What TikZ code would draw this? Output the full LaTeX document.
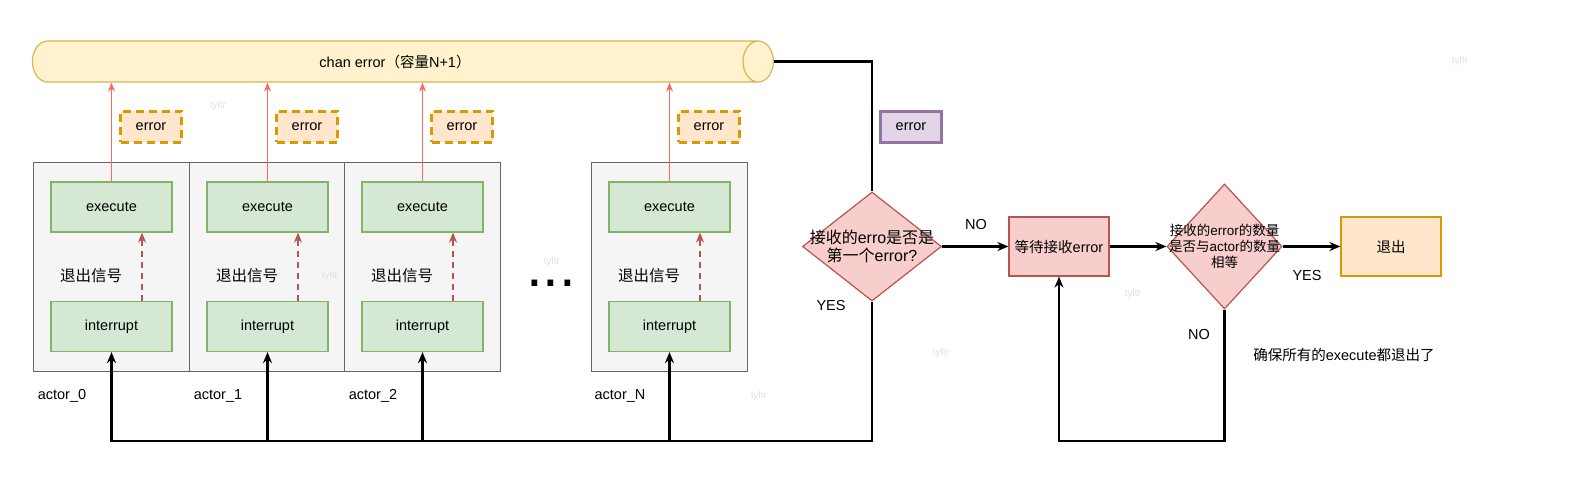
\documentclass[tikz,border=0pt]{standalone}
\usepackage{fontspec}
\setmainfont{Liberation Sans}
\newfontfamily\cjk{Noto Sans CJK SC}
\newcommand{\zh}[1]{{\cjk #1}}
\usepackage{tikz}
\usetikzlibrary{arrows.meta, shapes.geometric}

\definecolor{chanfill}{HTML}{FFF2CC}
\definecolor{chanline}{HTML}{D6B656}
\definecolor{greenfill}{HTML}{D5E8D4}
\definecolor{greenline}{HTML}{82B366}
\definecolor{orangefill}{HTML}{FFE6CC}
\definecolor{orangeline}{HTML}{D79B00}
\definecolor{redfill}{HTML}{F8CECC}
\definecolor{redline}{HTML}{B85450}
\definecolor{purplefill}{HTML}{E1D5E7}
\definecolor{purpleline}{HTML}{9673A6}
\definecolor{lightred}{HTML}{FF6666}

\begin{document}
\begin{tikzpicture}[
    x=1pt, y=-1pt,
    font=\fontsize{14.5}{17}\selectfont,
    actorbox/.style={
        rectangle,
        draw=black!60,
        fill=black!4,
        line width=1.2pt,
        minimum width=155.5pt,
        minimum height=209pt,
        inner sep=0pt
    },
    greenbox/.style={
        rectangle,
        draw=greenline,
        fill=greenfill,
        line width=1.2pt,
        minimum width=121pt,
        minimum height=50pt
    },
    errbox/.style={
        rectangle,
        draw=orangeline,
        fill=orangefill,
        line width=3pt,
        dash pattern=on 8pt off 5pt,
        minimum width=61pt,
        minimum height=31pt
    },
    stepbox/.style={
        rectangle,
        line width=1.2pt,
        minimum width=100pt,
        minimum height=59pt
    },
    decision/.style={
        diamond,
        draw=redline,
        fill=redfill,
        line width=1.2pt,
        inner sep=0pt
    },
    wm/.style={text=black!12, font=\fontsize{10}{12}\selectfont},
    redarrow/.style={-{Stealth[length=9pt, width=7pt]}, lightred, line width=1.2pt},
    sigarrow/.style={-{Stealth[length=10pt, width=8pt]}, redline, line width=2.2pt, dash pattern=on 6pt off 5pt},
    flow/.style={-{Stealth[length=11pt, width=9pt]}, line width=2.4pt},
    line/.style={line width=2.4pt}
]
\useasboundingbox (0,0) rectangle (1583,483);

% --- channel ---
\node[cylinder, shape border rotate=0, aspect=2.2, draw=chanline, fill=chanfill,
      line width=1.2pt, minimum height=741pt, minimum width=41pt, inner sep=0pt]
    (chan) at (395,61.5) {chan error\zh{（容量}N+1\zh{）}};

% --- actors ---
\foreach \x/\i in {33/0, 189/1, 344/2, 591/N} {
    \node[actorbox, anchor=north west] (actor\i) at (\x,162) {};
    \node[greenbox] (exec\i) at (\x+78.5,207) {execute};
    \node[greenbox] (int\i)  at (\x+78.5,326.5) {interrupt};
    \node[errbox]   (err\i)  at (\x+118,126.5) {error};
    \node[font=\fontsize{15.5}{18}\selectfont] (sig\i) at (\x+58,276) {\zh{退出信号}};
    \node (name\i) at (\x+29,396) {actor\_\i};
    \draw[redarrow] (exec\i.north) -- (exec\i.north |- chan.south);
    \draw[sigarrow] ([xshift=30.5pt]int\i.north) -- ([xshift=30.5pt]exec\i.south);
}
\node[font=\fontsize{60}{60}\selectfont, anchor=base, inner sep=0pt] (dots) at (551,286) {\smash{...}};

% --- decisions ---
\node[decision, minimum width=139pt, minimum height=109pt,
      label={[align=center, font=\fontsize{16}{18.5}\selectfont]center:\zh{接收的}erro\zh{是否是}\\\zh{第一个}error?}]
    (first) at (872,246.5) {};
\node[stepbox, draw=redline, fill=redfill] (wait) at (1059,246.5) {\zh{等待接收}error};
\node[decision, minimum width=115pt, minimum height=125pt,
      label={[align=center, font=\fontsize{13.5}{16}\selectfont]center:\zh{接收的}error\zh{的数量}\\\zh{是否与}actor\zh{的数量}\\\zh{相等}}]
    (same) at (1224.5,246.5) {};
\node[stepbox, draw=orangeline, fill=orangefill] (quit) at (1391,246.5) {\zh{退出}};
\node[rectangle, draw=purpleline, fill=purplefill, line width=3pt,
      minimum width=61pt, minimum height=31pt] (perr) at (911,126.5) {error};

\node (no1)  at (976,225) {NO};
\node (yes1) at (831,306) {YES};
\node (yes2) at (1307,276) {YES};
\node (no2)  at (1199,335) {NO};
\node (note) at (1344,355) {\zh{确保所有的}execute\zh{都退出了}};

% --- watermarks ---
\foreach \n/\x/\y in {1/218/106, 2/330/276, 3/552/262, 4/941/353, 5/759/396, 6/1133/294, 7/1460/61}
    \node[wm] (wm\n) at (\x,\y) {tyltr};

% --- connectors ---
\coordinate (bus) at (0,441);
\draw[line] (chan.east) -| (first.north);
\draw[flow] (first.south) |- (bus -| int0.south) -- (int0.south);
\foreach \i in {1,2,N}
    \draw[flow] (bus -| int\i.south) -- (int\i.south);
\draw[flow] (first.east) -- (wait.west);
\draw[flow] (wait.east) -- (same.west);
\draw[flow] (same.east) -- (quit.west);
\draw[flow] (same.south) |- (bus -| wait.south) -- (wait.south);

\end{tikzpicture}
\end{document}
